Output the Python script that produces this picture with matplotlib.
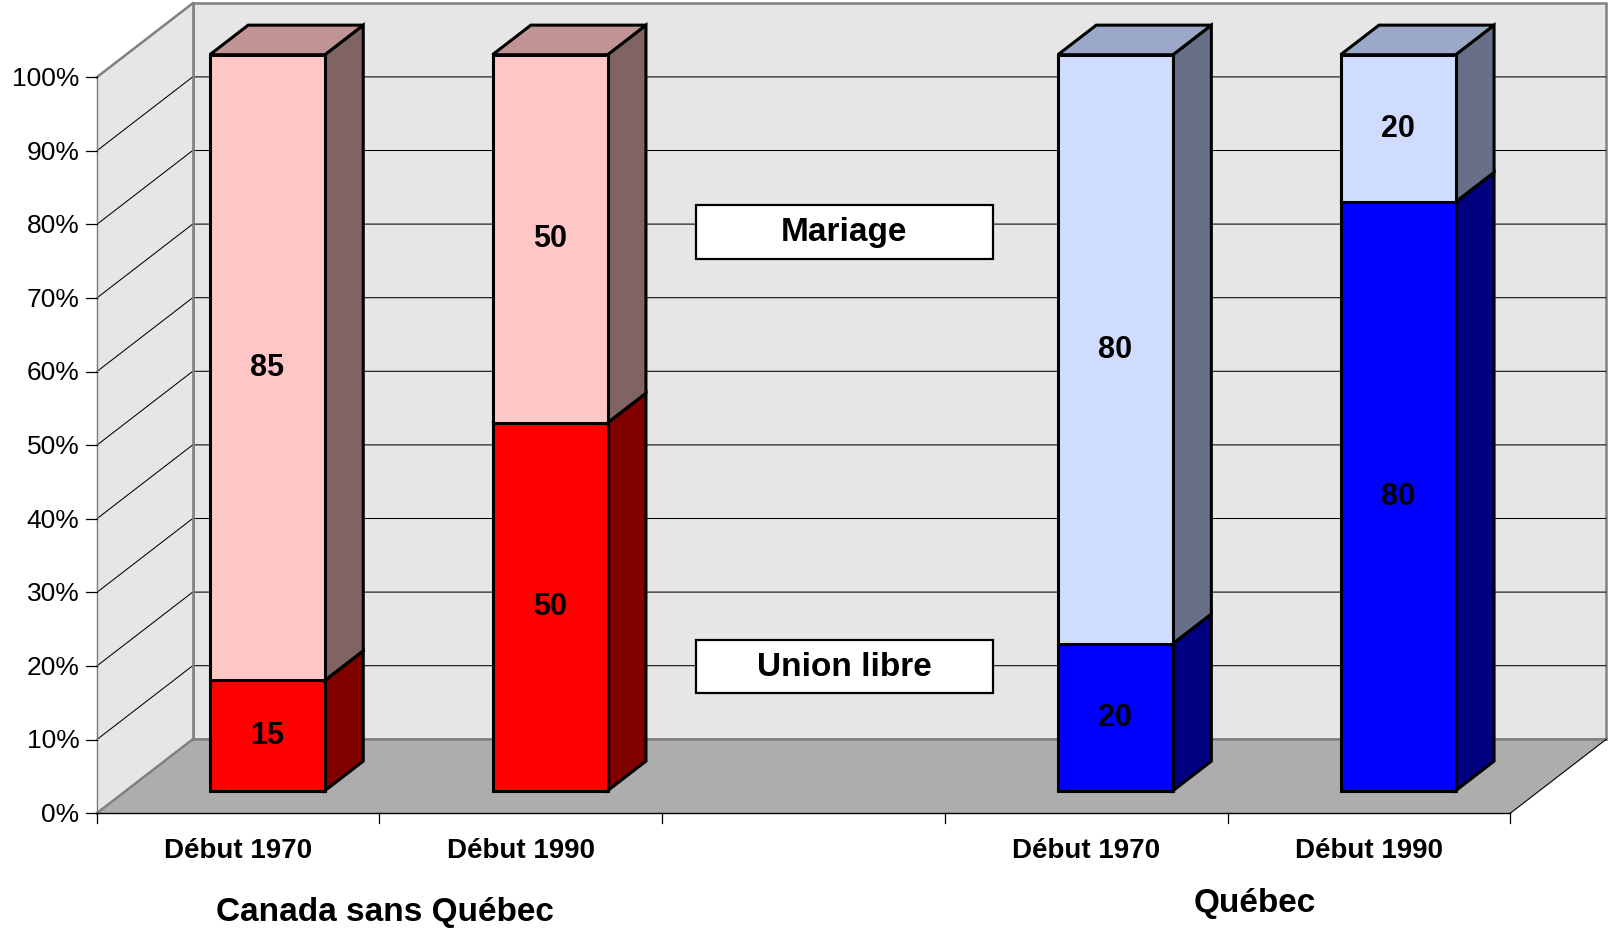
import matplotlib
matplotlib.use("Agg")
import matplotlib.pyplot as plt
from matplotlib.patches import Polygon, Rectangle

# ---------------- data ----------------
categories = ["Début 1970", "Début 1990", "", "Début 1970", "Début 1990"]
union_libre = [15, 50, None, 20, 80]
mariage = [85, 50, None, 80, 20]
series_names = ["Union libre", "Mariage"]
group_of_bar = [0, 0, None, 1, 1]
group_names = ["Canada sans Québec", "Québec"]
yticks = list(range(0, 101, 10))

# ---------------- style ----------------
FONT = "Liberation Sans"
plt.rcParams["font.family"] = [FONT, "DejaVu Sans"]

colors = {
    0: {"Union libre": ("#FF0000", "#800000", "#C00000"),
        "Mariage": ("#FFC6C6", "#806464", "#C09494")},
    1: {"Union libre": ("#0000FF", "#000080", "#0000C0"),
        "Mariage": ("#D0DCFF", "#687088", "#9CA8C8")},
}
WALL = "#E6E6E6"
FLOOR = "#ADADAD"
BORDER = "#808080"

W, H = 1612, 934
fig = plt.figure(figsize=(W / 100, H / 100), dpi=100)
ax = fig.add_axes([0, 0, 1, 1])
ax.axis("off")

# front-plane geometry (pixels)
X0_PX, CAT_PX, Y0_PX, PCT_PX = 96.7, 282.7, 813.3, 7.36
ax.set_xlim(-X0_PX / CAT_PX, (W - X0_PX) / CAT_PX)
ax.set_ylim((Y0_PX - H) / PCT_PX, Y0_PX / PCT_PX)

DX = 96 / CAT_PX      # depth offset (category units)
DY = 74 / PCT_PX      # depth offset (percent units)


def P(x, y, d):
    return (x + DX * d, y + DY * d)


def px_x(p):
    return p / CAT_PX


def px_y(p):
    return p / PCT_PX


n = len(categories)
YMAX = yticks[-1]

# ---------------- walls & floor ----------------
ax.add_patch(Polygon([P(0, 0, 1), P(n, 0, 1), P(n, YMAX, 1), P(0, YMAX, 1)],
                     closed=True, fc=WALL, ec=BORDER, lw=1.8, zorder=1))
ax.add_patch(Polygon([P(0, 0, 0), P(0, 0, 1), P(0, YMAX, 1), P(0, YMAX, 0)],
                     closed=True, fc=WALL, ec="none", zorder=1))
ax.add_patch(Polygon([P(0, 0, 0), P(n, 0, 0), P(n, 0, 1), P(0, 0, 1)],
                     closed=True, fc=FLOOR, ec="none", zorder=1.5))

# gridlines
for y in yticks[1:-1]:
    pts = [P(0, y, 0), P(0, y, 1), P(n, y, 1)]
    ax.plot([p[0] for p in pts], [p[1] for p in pts], color="black", lw=0.75,
            zorder=2, solid_capstyle="butt")

# wall borders
for a, b in [((0, YMAX, 0), (0, YMAX, 1)), ((0, 0, 0), (0, 0, 1)),
             ((0, 0, 1), (n, 0, 1)), ((0, 0, 1), (0, YMAX, 1))]:
    pa, pb = P(*a), P(*b)
    ax.plot([pa[0], pb[0]], [pa[1], pb[1]], color=BORDER, lw=1.8, zorder=2.2)
pa, pb = P(0, 0, 0), P(0, YMAX, 0)
ax.plot([pa[0], pb[0]], [pa[1], pb[1]], color=BORDER, lw=1.0, zorder=2.2)
# floor front edges
pa, pb = P(0, 0, 0), P(n, 0, 0)
ax.plot([pa[0], pb[0]], [pa[1], pb[1]], color="black", lw=1.0, zorder=2.3)
pa, pb = P(n, 0, 0), P(n, 0, 1)
ax.plot([pa[0], pb[0]], [pa[1], pb[1]], color="black", lw=0.8, zorder=2.3)

# y ticks & labels
for y in yticks:
    ax.plot([-px_x(10.5), 0], [y, y], color="black", lw=0.9, zorder=2.3)
    ax.text(-px_x(17.4), y - px_y(8.7), f"{y}%", ha="right", va="baseline",
            fontsize=19)

# x ticks & labels
for i in range(n + 1):
    ax.plot([i, i], [0, -px_y(10)], color="black", lw=0.9, zorder=2.3)
for i, c in enumerate(categories):
    if c:
        ax.text(i + 0.5, -px_y(45), c, ha="center", va="baseline",
                fontsize=20, fontweight="bold")

# ---------------- bars ----------------
BW = 0.407
D0, D1 = 0.305, 0.705
EDGE_LW = 2.2
z = 3
for i in range(n):
    if union_libre[i] is None:
        continue
    g = group_of_bar[i]
    x0, x1 = i + 0.5 - BW / 2, i + 0.5 + BW / 2
    base = 0
    for name, vals in zip(series_names, [union_libre, mariage]):
        v = vals[i]
        top = base + v
        front_c, side_c, top_c = colors[g][name]
        kw = dict(closed=True, ec="black", lw=EDGE_LW, joinstyle="miter")
        ax.add_patch(Polygon([P(x1, base, D0), P(x1, base, D1), P(x1, top, D1), P(x1, top, D0)],
                             fc=side_c, zorder=z, **kw))
        ax.add_patch(Polygon([P(x0, top, D0), P(x1, top, D0), P(x1, top, D1), P(x0, top, D1)],
                             fc=top_c, zorder=z, **kw))
        ax.add_patch(Polygon([P(x0, base, D0), P(x1, base, D0), P(x1, top, D0), P(x0, top, D0)],
                             fc=front_c, zorder=z + 0.5, **kw))
        cx, cy = P((x0 + x1) / 2, (base + top) / 2, D0)
        ax.text(cx, cy - px_y(8.5), f"{v}", ha="center", va="baseline",
                fontsize=22, fontweight="bold", zorder=z + 1)
        z += 2
        base = top

# ---------------- series label boxes ----------------
box_centers = {"Mariage": (2.644, 78.95), "Union libre": (2.644, 19.92)}
BOX_W, BOX_H = px_x(297), px_y(53.5)
for name in series_names:
    bx, by = box_centers[name]
    ax.add_patch(Rectangle((bx - BOX_W / 2, by - BOX_H / 2), BOX_W, BOX_H,
                           fc="white", ec="black", lw=1.6, zorder=20))
    ax.text(bx, by - px_y(9), name, ha="center", va="baseline", fontsize=24,
            fontweight="bold", zorder=21)

# ---------------- group labels ----------------
ax.text((384.7 - X0_PX) / CAT_PX, (Y0_PX - 920.7) / PCT_PX, group_names[0],
        ha="center", va="baseline", fontsize=24, fontweight="bold")
ax.text((1255 - X0_PX) / CAT_PX, (Y0_PX - 911.7) / PCT_PX, group_names[1],
        ha="center", va="baseline", fontsize=24, fontweight="bold")

fig.savefig("out.png", dpi=100)
